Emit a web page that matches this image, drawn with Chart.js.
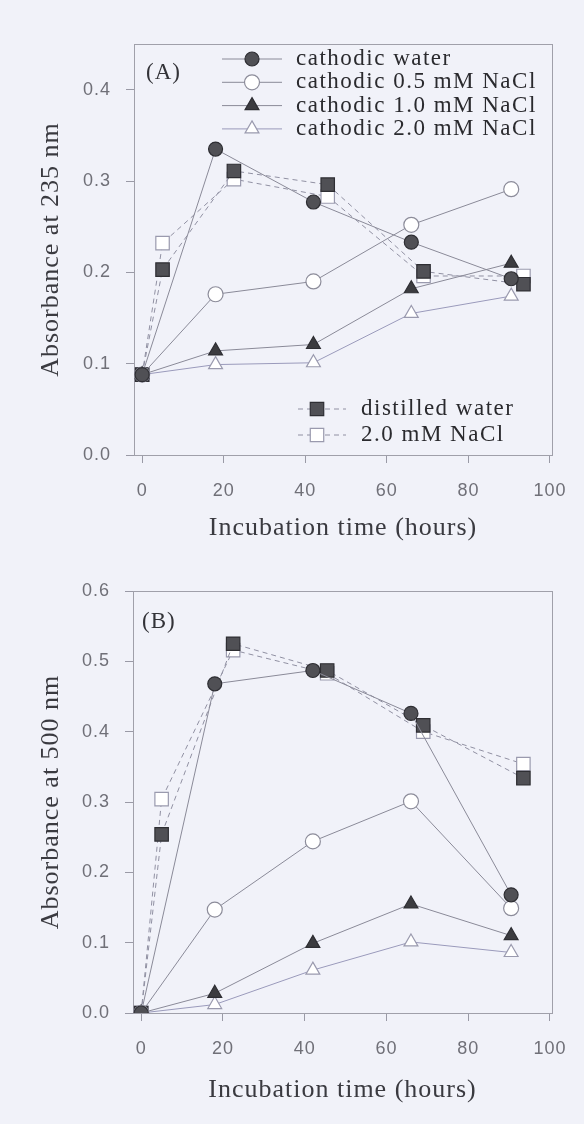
<!DOCTYPE html>
<html><head><meta charset="utf-8">
<script src="https://cdn.jsdelivr.net/npm/chart.js@4.4.0/dist/chart.umd.min.js"></script>
<style>
html,body{margin:0;padding:0;background:#f1f2f9;}
#wrap{position:relative;width:584px;height:1124px;overflow:hidden;}
canvas{position:absolute;left:0;}
</style></head><body>
<div id="wrap">
<canvas id="cA" width="584" height="560" style="top:0"></canvas>
<canvas id="cB" width="584" height="564" style="top:560px"></canvas>
</div>
<script>
// ---- data ----
const cathodicHours = [0, 18, 42, 66, 90.5];
const controlHours  = [0, 5, 22.5, 45.5, 69, 93.5];
const seriesNames = ['cathodic water', 'cathodic 0.5 mM NaCl', 'cathodic 1.0 mM NaCl',
                     'cathodic 2.0 mM NaCl', 'distilled water', '2.0 mM NaCl'];
// Panel A: absorbance at 235 nm
const a235_cathodicWater = [0.088, 0.335, 0.277, 0.233, 0.193];
const a235_cathodic05    = [0.088, 0.176, 0.190, 0.252, 0.291];
const a235_cathodic10    = [0.088, 0.114, 0.121, 0.182, 0.210];
const a235_cathodic20    = [0.088, 0.099, 0.101, 0.155, 0.174];
const a235_distilled     = [0.088, 0.203, 0.311, 0.296, 0.201, 0.187];
const a235_nacl20        = [0.088, 0.232, 0.302, 0.283, 0.196, 0.196];
// Panel B: absorbance at 500 nm
const a500_cathodicWater = [0, 0.468, 0.487, 0.426, 0.168];
const a500_cathodic05    = [0, 0.147, 0.244, 0.301, 0.149];
const a500_cathodic10    = [0, 0.028, 0.099, 0.155, 0.110];
const a500_cathodic20    = [0, 0.012, 0.061, 0.101, 0.086];
const a500_distilled     = [0, 0.254, 0.525, 0.487, 0.409, 0.334];
const a500_nacl20        = [0, 0.304, 0.516, 0.483, 0.400, 0.354];
// ticks
const xTicks  = [0, 20, 40, 60, 80, 100];
const yTicksA = [0, 0.1, 0.2, 0.3, 0.4];
const yTicksB = [0, 0.1, 0.2, 0.3, 0.4, 0.5, 0.6];

// ---- styles ----
const styles = [
  {ps:'circle',   r:7,   fill:'#505055', stroke:'#2e2e33', line:'#8a8a98', dash:[]},
  {ps:'circle',   r:7.5, fill:'#ffffff', stroke:'#8c8c9a', line:'#8a8a98', dash:[]},
  {ps:'triangle', r:8,   fill:'#3c3c40', stroke:'#2e2e33', line:'#8a8a98', dash:[]},
  {ps:'triangle', r:8,   fill:'#ffffff', stroke:'#9a9aae', line:'#9a9abb', dash:[]},
  {ps:'rect',     r:9.5, fill:'#505055', stroke:'#2e2e33', line:'#9090a2', dash:[5,4]},
  {ps:'rect',     r:9.5, fill:'#ffffff', stroke:'#9a9aae', line:'#9090a2', dash:[5,4]}
];
function pts(hours, vals){ return vals.map((v,i)=>({x:hours[i], y:v})); }
function makeDatasets(series){
  return series.map((s,i)=>({
    label: seriesNames[i],
    data: pts(s.h, s.v),
    showLine: true,
    borderColor: styles[i].line,
    borderWidth: 1,
    borderDash: styles[i].dash,
    pointStyle: styles[i].ps,
    pointRadius: styles[i].r,
    pointHoverRadius: styles[i].r,
    pointBackgroundColor: styles[i].fill,
    pointBorderColor: styles[i].stroke,
    pointBorderWidth: 1.2,
    tension: 0
  }));
}

const frameAndLegend = {
  id: 'frameAndLegend',
  beforeDraw(chart){ chart.ctx.letterSpacing = '1px'; },
  beforeDatasetsDraw(chart){
    const {ctx, chartArea:a} = chart;
    ctx.save();
    ctx.strokeStyle = '#a0a0aa'; ctx.lineWidth = 1;
    ctx.strokeRect(Math.round(a.left)+0.5, Math.round(a.top)+0.5, Math.round(a.right-a.left), Math.round(a.bottom-a.top));
    ctx.restore();
  },
  afterDatasetsDraw(chart, args, opts){
    const ctx = chart.ctx;
    (opts.groups || []).forEach(g => {
      g.items.forEach((di, k) => {
        const ds = chart.data.datasets[di];
        const y = g.y + k * g.rowGap;
        ctx.save();
        ctx.strokeStyle = ds.borderColor; ctx.lineWidth = 1;
        ctx.setLineDash(ds.borderDash || []);
        ctx.beginPath(); ctx.moveTo(g.lineX0, y); ctx.lineTo(g.lineX1, y); ctx.stroke();
        ctx.setLineDash([]);
        ctx.fillStyle = ds.pointBackgroundColor; ctx.strokeStyle = ds.pointBorderColor;
        ctx.lineWidth = ds.pointBorderWidth;
        Chart.helpers.drawPoint(ctx, {pointStyle: ds.pointStyle, radius: ds.pointRadius,
          borderWidth: ds.pointBorderWidth, rotation: 0}, g.markerX, y);
        ctx.fillStyle = '#2a2a2e';
        ctx.font = opts.textFont;
        ctx.letterSpacing = '1.5px';
        ctx.textBaseline = 'middle'; ctx.textAlign = 'left';
        ctx.fillText(ds.label, g.textX, y);
        ctx.restore();
      });
    });
    if (opts.panelLabel){
      ctx.save();
      ctx.fillStyle = '#333338'; ctx.font = opts.textFont;
      ctx.letterSpacing = '1px';
      ctx.textBaseline = 'middle'; ctx.textAlign = 'left';
      ctx.fillText(opts.panelLabel.text, opts.panelLabel.x, opts.panelLabel.y);
      ctx.restore();
    }
  }
};

function scales(yMax, yTicks, yTitle, yWidth, xHeight, xTitleBottom){
  return {
    x: {
      type: 'linear', min: -2, max: 100.5,
      afterBuildTicks: s => { s.ticks = xTicks.map(v => ({value: v})); },
      afterFit: s => { s.height = xHeight; },
      grid: {drawOnChartArea: false, tickLength: 8, color: '#9a9aa6'},
      border: {display: false},
      ticks: {font: {family: 'Liberation Sans', size: 18}, color: '#707078', padding: 17,
              maxRotation: 0, autoSkip: false, callback: v => String(v)},
      title: {display: true, text: 'Incubation time (hours)', color: '#3a3a40',
              font: {family: 'Liberation Serif', size: 26}, padding: {top: 0, bottom: xTitleBottom}}
    },
    y: {
      type: 'linear', min: 0, max: yMax,
      afterBuildTicks: s => { s.ticks = yTicks.map(v => ({value: v})); },
      afterFit: s => { s.width = yWidth; },
      grid: {drawOnChartArea: false, tickLength: 8, color: '#9a9aa6'},
      border: {display: false},
      ticks: {font: {family: 'Liberation Sans', size: 18}, color: '#707078', padding: 15,
              autoSkip: false, callback: v => Number(v).toFixed(1)},
      title: {display: true, text: yTitle, color: '#3a3a40',
              font: {family: 'Liberation Serif', size: 26}, padding: {top: 36, bottom: 0}}
    }
  };
}

new Chart(document.getElementById('cA'), {
  type: 'scatter',
  data: {datasets: makeDatasets([
    {h: cathodicHours, v: a235_cathodicWater},
    {h: cathodicHours, v: a235_cathodic05},
    {h: cathodicHours, v: a235_cathodic10},
    {h: cathodicHours, v: a235_cathodic20},
    {h: controlHours,  v: a235_distilled},
    {h: controlHours,  v: a235_nacl20}
  ])},
  options: {
    responsive: false, animation: false,
    layout: {padding: {top: 44, right: 32, left: 0, bottom: 0}},
    scales: scales(0.45, yTicksA, 'Absorbance at 235 nm', 134, 105, 16),
    plugins: {
      legend: {display: false}, tooltip: {enabled: false},
      frameAndLegend: {
        textFont: '23px "Liberation Serif"',
        panelLabel: {text: '(A)', x: 146, y: 73},
        groups: [
          {items: [0,1,2,3], y: 59, rowGap: 23.3, lineX0: 222, lineX1: 282, markerX: 252, textX: 296},
          {items: [4,5], y: 409, rowGap: 26, lineX0: 298, lineX1: 346, markerX: 317, textX: 361}
        ]
      }
    }
  },
  plugins: [frameAndLegend]
});

new Chart(document.getElementById('cB'), {
  type: 'scatter',
  data: {datasets: makeDatasets([
    {h: cathodicHours, v: a500_cathodicWater},
    {h: cathodicHours, v: a500_cathodic05},
    {h: cathodicHours, v: a500_cathodic10},
    {h: cathodicHours, v: a500_cathodic20},
    {h: controlHours,  v: a500_distilled},
    {h: controlHours,  v: a500_nacl20}
  ])},
  options: {
    responsive: false, animation: false,
    layout: {padding: {top: 31, right: 32, left: 0, bottom: 0}},
    scales: scales(0.6, yTicksB, 'Absorbance at 500 nm', 133, 111, 18),
    plugins: {
      legend: {display: false}, tooltip: {enabled: false},
      frameAndLegend: {
        textFont: '23px "Liberation Serif"',
        panelLabel: {text: '(B)', x: 142, y: 62},
        groups: []
      }
    }
  },
  plugins: [frameAndLegend]
});
</script>
</body></html>
